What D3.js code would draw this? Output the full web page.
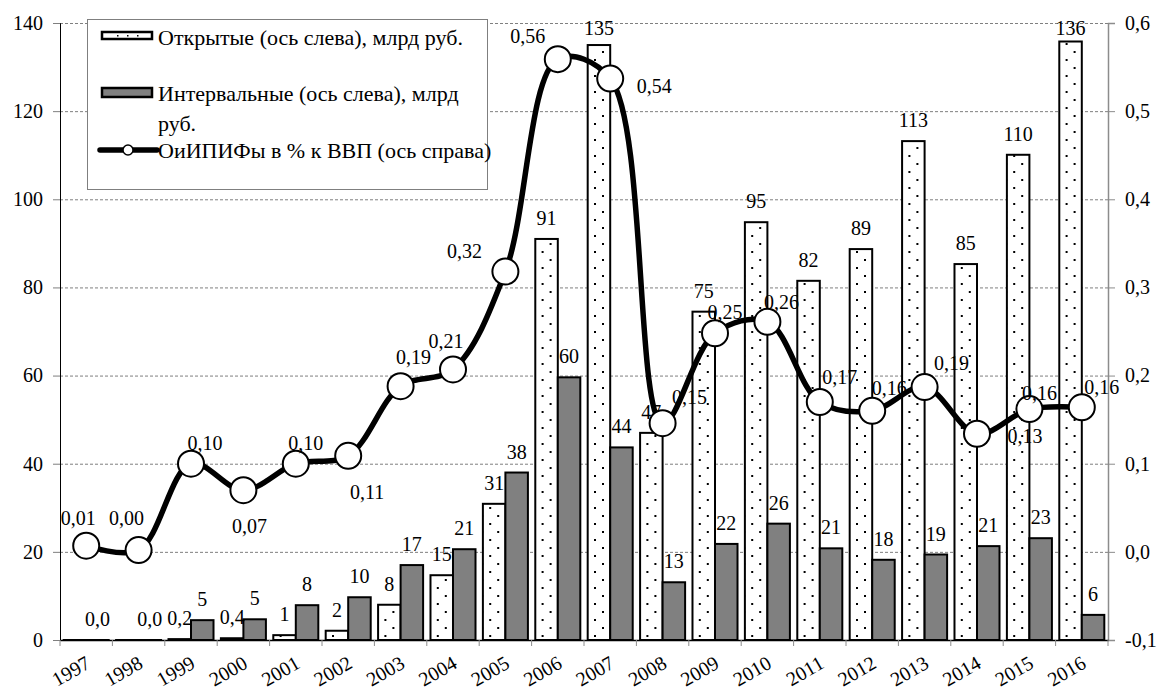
<!DOCTYPE html>
<html>
<head>
<meta charset="utf-8">
<script src="https://cdn.jsdelivr.net/npm/d3@7"></script>
<style>
  body { margin: 0; background: #fff; }
  svg { display: block; }
</style>
</head>
<body>
<svg id="chart" width="1160" height="693"></svg>
<script>
const YEARS = ['1997', '1998', '1999', '2000', '2001', '2002', '2003', '2004', '2005', '2006',
  '2007', '2008', '2009', '2010', '2011', '2012', '2013', '2014', '2015', '2016'];
// открытые ПИФы, млрд руб. (ось слева)
const OPEN_VALUES = [0, 0, 0.2, 0.4, 1.1, 2.1, 8, 14.7, 30.9, 91, 135, 47, 74.5, 94.8, 81.5, 88.7, 113.2, 85.3, 110.1, 135.8];
// интервальные ПИФы, млрд руб. (ось слева)
const INTERVAL_VALUES = [0, 0, 4.5, 4.7, 7.9, 9.7, 17, 20.6, 38, 59.6, 43.7, 13.1, 21.8, 26.4, 20.8, 18.2, 19.4, 21.3, 23.1, 5.7];
// ОиИПИФы в % к ВВП (ось справа)
const GDP_SHARE = [0.007, 0.002, 0.10, 0.07, 0.10, 0.109, 0.188, 0.207, 0.318, 0.559, 0.537, 0.146, 0.248, 0.261, 0.170, 0.160, 0.187, 0.134, 0.162, 0.164];
const LEFT_TICKS = [0, 20, 40, 60, 80, 100, 120, 140];
const RIGHT_TICKS = [-0.1, 0, 0.1, 0.2, 0.3, 0.4, 0.5, 0.6];
const LEGEND_LABELS = [
  ['Открытые (ось слева), млрд руб.'],
  ['Интервальные (ось слева), млрд', 'руб.'],
  ['ОиИПИФы в % к ВВП (ось справа)']
];

// where each line label sits relative to its marker
const LINE_LABEL_OFFSETS = [[-8, -28], [-12, -32], [14, -21], [6, 36], [10, -21], [19, 36], [13, -29], [-7, -28],
  [-41, -21], [-30, -23], [44, 7], [27, -26], [10, -21], [14, -20], [20, -25], [17, -23], [27, -24], [48, 2], [10, -16], [20, -20]];

const ru = d3.formatLocale({decimal: ',', thousands: ' ', grouping: [3], currency: ['', ''], minus: '-'});
const fmt1 = ru.format('.1f');
const fmt2 = ru.format('.2f');
const barLabel = v => v < 1 ? fmt1(v) : d3.format('.0f')(v);

const margin = {left: 60, right: 1108, top: 23, bottom: 640};
const FS = 20;
const FONT = 'Liberation Serif';

const svg = d3.select('#chart');

const x = d3.scaleBand().domain(YEARS).range([margin.left, margin.right]);
const xSub = d3.scaleBand().domain(['open', 'interval']).range([0, x.bandwidth()]).paddingOuter(0.164);
const yLeft = d3.scaleLinear().domain([0, 140]).range([margin.bottom, margin.top]);
const yRight = d3.scaleLinear().domain([-0.1, 0.6]).range([margin.bottom, margin.top]);

// dotted fill
const defs = svg.append('defs');
const pat = defs.append('pattern').attr('id', 'dots')
  .attr('patternUnits', 'userSpaceOnUse').attr('width', 16).attr('height', 16);
pat.append('rect').attr('width', 16).attr('height', 16).attr('fill', '#fff');
pat.append('rect').attr('x', 2).attr('y', 3).attr('width', 2).attr('height', 2).attr('fill', '#000');
pat.append('rect').attr('x', 10).attr('y', 11).attr('width', 2).attr('height', 2).attr('fill', '#000');

// grid
svg.append('g').selectAll('line')
  .data(LEFT_TICKS.filter(d => d > 0))
  .enter().append('line')
    .attr('x1', margin.left).attr('x2', margin.right)
    .attr('y1', d => yLeft(d) + 0.5).attr('y2', d => yLeft(d) + 0.5)
    .attr('stroke', '#7f7f7f').attr('stroke-width', 1).attr('stroke-dasharray', '3,2');

// bars
const barData = YEARS.map((y, i) => ({year: y, open: OPEN_VALUES[i], interval: INTERVAL_VALUES[i]}));
const groups = svg.append('g').selectAll('g')
  .data(barData)
  .enter().append('g')
    .attr('transform', d => `translate(${x(d.year)},0)`);

groups.append('rect')
  .attr('x', xSub('open')).attr('width', xSub.bandwidth())
  .attr('y', d => yLeft(d.open))
  .attr('height', d => Math.max(yLeft(0) - yLeft(d.open), 0.01))
  .attr('fill', 'url(#dots)').attr('stroke', '#000').attr('stroke-width', 2);

groups.append('rect')
  .attr('x', xSub('interval')).attr('width', xSub.bandwidth())
  .attr('y', d => yLeft(d.interval))
  .attr('height', d => Math.max(yLeft(0) - yLeft(d.interval), 0.01))
  .attr('fill', '#808080').attr('stroke', '#000').attr('stroke-width', 2);

// axes
const leftAxis = svg.append('g')
  .attr('transform', `translate(${margin.left},0)`)
  .call(d3.axisLeft(yLeft).tickValues(LEFT_TICKS).tickSizeOuter(0).tickSize(7).tickPadding(10));
leftAxis.select('.domain').attr('stroke', '#000');
leftAxis.selectAll('.tick line').attr('stroke', '#7f7f7f');

const rightAxis = svg.append('g')
  .attr('transform', `translate(${margin.right},0)`)
  .call(d3.axisRight(yRight).tickValues(RIGHT_TICKS).tickFormat(fmt1).tickSizeOuter(0).tickSize(7).tickPadding(10));
rightAxis.select('.domain').attr('stroke', '#8c8c8c').attr('stroke-width', 1.5);
rightAxis.selectAll('.tick line').attr('stroke', '#8c8c8c');

const bottomAxis = svg.append('g')
  .attr('transform', `translate(0,${margin.bottom})`)
  .call(d3.axisBottom(x).tickSize(0).tickSizeOuter(0));
bottomAxis.select('.domain').attr('stroke', '#000').attr('stroke-width', 1.5);
bottomAxis.selectAll('text')
  .attr('text-anchor', 'end')
  .attr('transform', 'translate(2,21) rotate(-30)')
  .attr('dy', '0.35em').attr('y', 0);
// boundary ticks between categories
svg.append('g').selectAll('line')
  .data(d3.range(YEARS.length + 1))
  .enter().append('line')
    .attr('x1', i => margin.left + i * x.step()).attr('x2', i => margin.left + i * x.step())
    .attr('y1', margin.bottom).attr('y2', margin.bottom + 6)
    .attr('stroke', '#8c8c8c');

// bar labels
groups.filter(d => d.open > 0).append('text')
  .attr('x', xSub('open') + xSub.bandwidth() / 2)
  .attr('y', d => Math.max(yLeft(d.open) - 14, 35))
  .attr('text-anchor', 'middle')
  .text(d => barLabel(d.open));
groups.append('text')
  .attr('x', xSub('interval') + xSub.bandwidth() / 2)
  .attr('y', d => Math.max(yLeft(d.interval) - 14, 35))
  .attr('text-anchor', 'middle')
  .text(d => barLabel(d.interval));

// line series
const cx = d => x(d.year) + x.bandwidth() / 2;
const lineData = YEARS.map((y, i) => ({year: y, v: GDP_SHARE[i], off: LINE_LABEL_OFFSETS[i]}));
const line = d3.line().x(cx).y(d => yRight(d.v)).curve(d3.curveCatmullRom.alpha(0.5));
svg.append('path').datum(lineData)
  .attr('d', line).attr('fill', 'none').attr('stroke', '#000').attr('stroke-width', 5.5);

svg.append('g').selectAll('circle')
  .data(lineData)
  .enter().append('circle')
    .attr('cx', cx).attr('cy', d => yRight(d.v)).attr('r', 13)
    .attr('fill', '#fff').attr('stroke', '#000').attr('stroke-width', 2);

svg.append('g').selectAll('text')
  .data(lineData)
  .enter().append('text')
    .attr('x', d => cx(d) + d.off[0])
    .attr('y', d => yRight(d.v) + d.off[1])
    .attr('dy', '0.35em')
    .attr('text-anchor', 'middle')
    .text(d => fmt2(d.v));

// one font for every text so far
svg.selectAll('g').attr('font-family', null);
svg.selectAll('text')
  .attr('font-family', FONT)
  .style('font-size', FS + 'px')
  .attr('fill', '#000');

// legend
const legend = svg.append('g');
legend.append('rect')
  .attr('x', 87.5).attr('y', 19.5).attr('width', 400).attr('height', 170)
  .attr('fill', '#fff').attr('stroke', '#7f7f7f');

const sw = legend.append('g');
sw.append('rect').attr('x', 102).attr('y', 32).attr('width', 50).attr('height', 7)
  .attr('fill', '#fff').attr('stroke', '#000').attr('stroke-width', 2.5);
sw.selectAll('rect.dot').data([117, 127, 137]).enter().append('rect')
  .attr('x', d => d).attr('y', 35).attr('width', 1.5).attr('height', 1.5).attr('fill', '#000');
sw.append('rect').attr('x', 102).attr('y', 88).attr('width', 50).attr('height', 9)
  .attr('fill', '#808080').attr('stroke', '#000').attr('stroke-width', 2.5);
sw.append('line').attr('x1', 100).attr('x2', 157).attr('y1', 150).attr('y2', 150)
  .attr('stroke', '#000').attr('stroke-width', 5.5).attr('stroke-linecap', 'round');
sw.append('circle').attr('cx', 128).attr('cy', 150).attr('r', 5)
  .attr('fill', '#fff').attr('stroke', '#000').attr('stroke-width', 1.5);

const legendY = [37, 93, 150];
LEGEND_LABELS.forEach((lines, i) => {
  const t = legend.append('text').attr('x', 158).attr('y', legendY[i])
    .attr('font-family', FONT).style('font-size', '22px').attr('fill', '#000');
  lines.forEach((s, j) => t.append('tspan').attr('x', 158).attr('dy', j === 0 ? '0.35em' : 30).text(s));
});
</script>
</body>
</html>
